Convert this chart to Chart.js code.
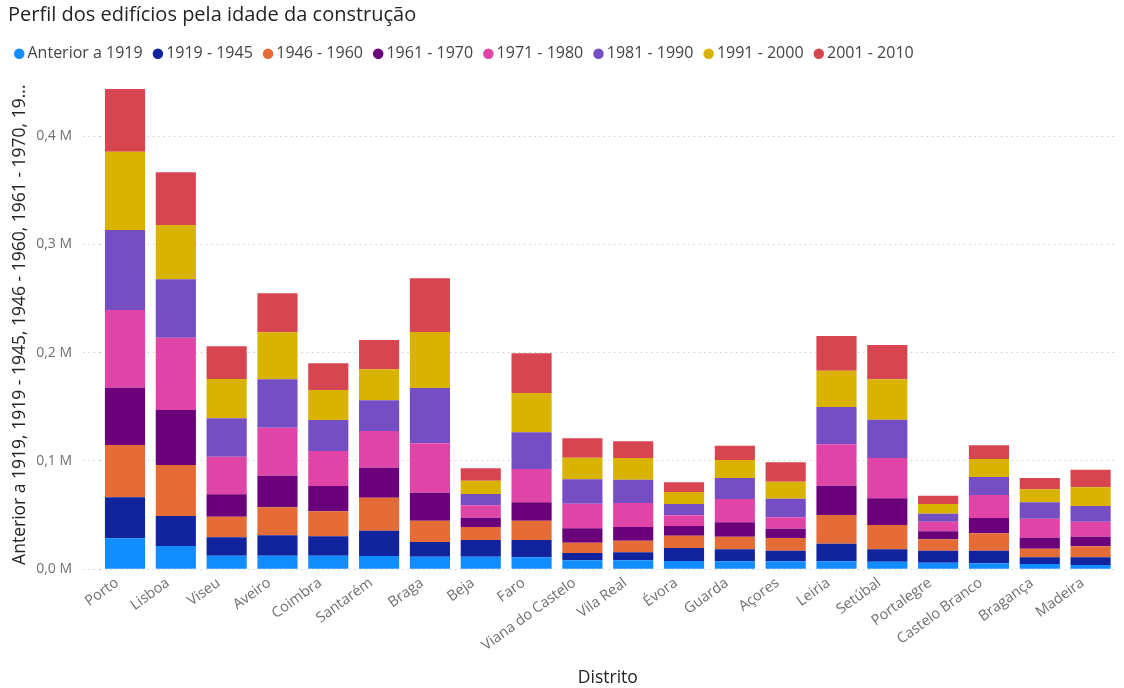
<!DOCTYPE html>
<html>
<head>
<meta charset="utf-8">
<script src="https://cdn.jsdelivr.net/npm/chart.js@4"></script>
<style>
  html, body { margin: 0; padding: 0; background: #fff; }
  #wrap { width: 1124px; height: 688px; position: relative; }
</style>
</head>
<body>
<div id="wrap"><canvas id="ageChart"></canvas></div>
<script>
// categories
var districts = ['Porto', 'Lisboa', 'Viseu', 'Aveiro', 'Coimbra', 'Santarém', 'Braga', 'Beja', 'Faro',
  'Viana do Castelo', 'Vila Real', 'Évora', 'Guarda', 'Açores', 'Leiria', 'Setúbal', 'Portalegre',
  'Castelo Branco', 'Bragança', 'Madeira'];

var periods = ['Anterior a 1919', '1919 - 1945', '1946 - 1960', '1961 - 1970',
  '1971 - 1980', '1981 - 1990', '1991 - 2000', '2001 - 2010'];

// buildings per period
var before1919 = [28600, 21500, 12600, 12600, 12600, 12300, 11600, 11600, 11100, 8300, 8300, 7700, 7400, 7400, 7400, 7000, 6100, 5500, 4900, 4000];
var built1919_1945 = [37900, 27700, 16900, 18800, 17900, 23300, 13600, 15500, 16000, 6800, 7400, 12000, 11100, 9800, 16200, 11500, 11100, 11700, 6200, 7100];
var built1946_1960 = [48300, 47100, 19100, 25800, 23100, 30500, 19700, 12000, 17800, 9500, 10700, 11300, 11600, 11700, 26500, 22400, 10500, 16000, 7900, 10100];
var built1961_1970 = [52900, 50800, 20700, 29200, 23300, 27700, 25800, 8500, 17000, 13300, 12700, 9000, 13300, 8600, 27100, 24700, 7400, 14200, 10200, 8900];
var built1971_1980 = [71700, 66800, 34700, 44300, 32300, 33900, 45600, 11500, 30700, 22700, 22100, 9900, 21500, 10500, 38200, 37200, 8900, 21200, 17500, 13900];
var built1981_1990 = [73900, 53900, 35400, 44700, 28700, 28300, 51100, 10400, 33900, 22500, 21500, 10400, 19400, 17200, 34500, 35300, 7300, 16600, 15200, 14400];
var built1991_2000 = [72300, 50100, 36300, 43400, 27700, 28700, 51700, 12300, 36300, 19900, 20100, 11100, 16600, 15700, 33500, 37300, 9000, 16600, 12000, 17300];
var built2001_2010 = [57900, 48700, 30200, 36000, 24600, 27000, 49600, 11500, 36600, 18000, 15400, 8900, 13200, 17900, 32000, 31700, 7700, 12700, 10400, 16300];

var yTicks = [0, 100000, 200000, 300000, 400000];

var series = [before1919, built1919_1945, built1946_1960, built1961_1970,
  built1971_1980, built1981_1990, built1991_2000, built2001_2010];
var colors = ['#118DFF', '#12239E', '#E66C37', '#6B007B', '#E044A7', '#744EC2', '#D9B300', '#D64550'];

var FONT = '"Segoe UI", "Open Sans", sans-serif';

// nudge legend so its first dot lines up under the title
var legendShift = {
  id: 'legendShift',
  afterLayout: function (chart) {
    chart.legend.left -= 4;
    chart.legend.right -= 4;
  }
};

var ctx = document.getElementById('ageChart');
var myChart = new Chart(ctx, {
  type: 'bar',
  data: {
    labels: districts,
    datasets: series.map(function (vals, i) {
      return {
        label: periods[i],
        data: vals,
        backgroundColor: colors[i],
        borderWidth: 0,
        barPercentage: 0.79,
        categoryPercentage: 1
      };
    })
  },
  options: {
    responsive: true,
    maintainAspectRatio: false,
    animation: false,
    layout: { padding: { left: 8, right: 8, top: 0, bottom: 0 } },
    plugins: {
      title: {
        display: true,
        text: 'Perfil dos edifícios pela idade da construção',
        align: 'start',
        color: '#252423',
        font: { family: FONT, size: 20, weight: 'normal' },
        padding: { top: 3.5, bottom: 3.2 }
      },
      subtitle: {
        display: true,
        text: '',
        weight: 500,
        font: { size: 7, lineHeight: 1.2 },
        padding: 0
      },
      legend: {
        position: 'top',
        align: 'start',
        labels: {
          usePointStyle: true,
          pointStyle: 'circle',
          boxWidth: 0.5,
          boxHeight: 7.4,
          padding: 15,
          color: '#444444',
          font: { family: FONT, size: 16 }
        }
      },
      tooltip: { enabled: false }
    },
    scales: {
      x: {
        stacked: true,
        grid: { display: false, drawTicks: false },
        border: { display: false },
        ticks: {
          color: '#6f6f6f',
          font: { family: FONT, size: 14.5 },
          minRotation: 36,
          maxRotation: 36,
          autoSkip: false,
          padding: 5,
          labelOffset: -8
        },
        title: {
          display: true,
          text: 'Distrito',
          color: '#252423',
          font: { family: FONT, size: 17.5 },
          padding: { top: 0, bottom: -1 }
        },
        afterFit: function (scale) { scale.height = 118.7; }
      },
      y: {
        stacked: true,
        min: 0,
        max: 451700,
        afterBuildTicks: function (scale) {
          scale.ticks = yTicks.map(function (v) { return { value: v }; });
        },
        ticks: {
          color: '#6f6f6f',
          font: { family: FONT, size: 14 },
          padding: 11,
          callback: function (v) { return (v / 1e6).toFixed(1).replace('.', ',') + ' M'; }
        },
        grid: {
          color: '#c8c8c8',
          lineWidth: 1,
          drawTicks: true,
          tickLength: 16.6,
          tickColor: '#c8c8c8',
          tickBorderDash: [1.3, 4]
        },
        border: { display: false, dash: [1.3, 4] },
        title: {
          display: true,
          text: 'Anterior a 1919, 1919 - 1945, 1946 - 1960, 1961 - 1970, 19...',
          color: '#252423',
          font: { family: FONT, size: 17.5 },
          padding: { top: 1.5, bottom: 0 }
        },
        afterFit: function (scale) { scale.width = 91.6; }
      }
    }
  },
  plugins: [legendShift]
});
</script>
</body>
</html>
